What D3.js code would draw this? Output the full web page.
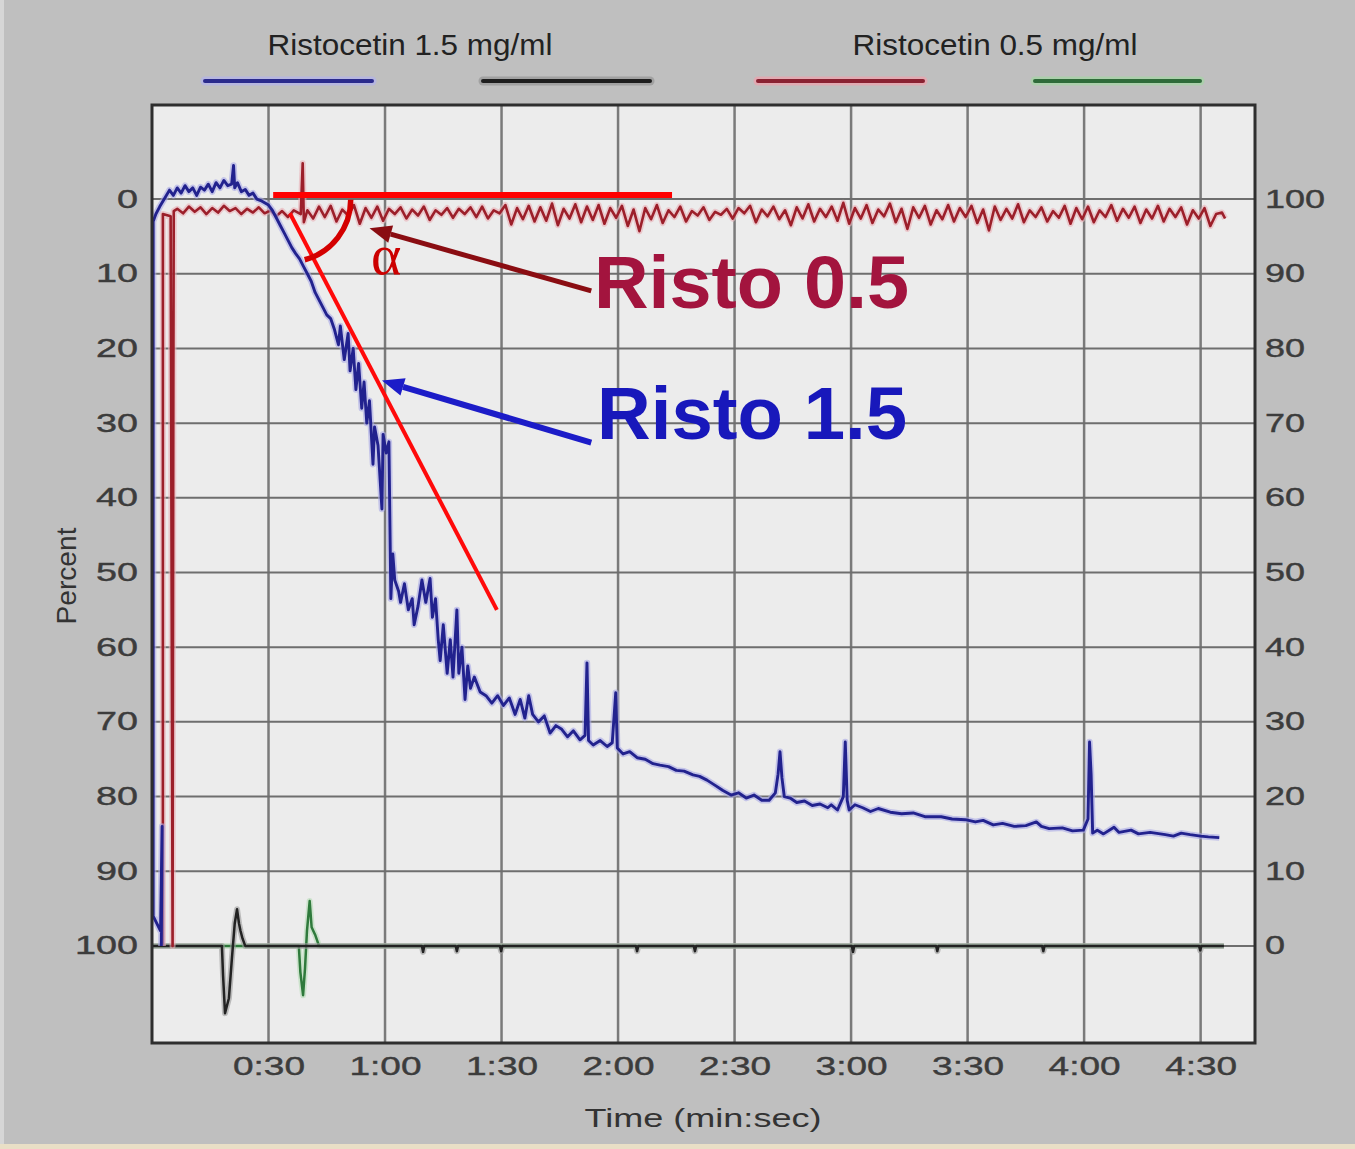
<!DOCTYPE html>
<html><head><meta charset="utf-8">
<script src="https://cdn.jsdelivr.net/npm/d3@7"></script>
<style>html,body{margin:0;padding:0;background:#bfbfbf;}svg{display:block;}</style>
</head><body>
<svg id="chart" width="1355" height="1149"></svg>
<script>
// ---- data: [time in seconds, percent aggregation] ----
const risto15 = [
[2.4,100],[2.6,84],[2.2,98],[0.3,96],[0.3,3],[1.0,2.0],[2.0,1.0],[3.5,-0.3],[4.5,-1.2],[5.5,-0.5],[6.5,-1.5],[7.5,-0.8],[8.5,-1.8],[9.5,-1.0],[10.5,-1.5],[11.5,-0.5],[12.5,-1.6],[13.5,-1.2],[14.5,-2.0],[15.5,-1.0],[16.5,-2.2],[17.5,-1.5],[18.5,-2.5],[19.5,-1.8],[20.5,-2.0],[21.0,-4.5],[21.3,-1.5],[22.0,-2.2],[23.0,-1.0],[24.0,-1.3],[25.0,-0.5],[26.0,-0.8],[27.0,0.0],[28.0,0.2],[29.0,0.5],[30.0,0.8],[31.0,1.5],[32.0,2.5],[33.0,3.5],[34.0,4.5],[35.0,5.5],[36.0,6.5],[37.0,7.3],[38.0,8.0],[39.0,9.0],[40.0,10.0],[41.0,11.0],[42.0,12.5],[43.0,13.5],[44.0,14.5],[45.0,15.5],
[46.0,16.0],[47.0,17.5],[48.0,19.5],[48.5,17.0],[49.5,21.5],[50.5,18.0],[51.0,23.0],[51.8,20.0],[52.5,25.5],[53.2,22.0],[54.0,28.0],[54.6,24.5],[55.3,30.0],[56.0,27.0],[56.9,35.5],[57.3,30.5],[58.2,33.0],[59.2,41.5],[59.5,31.5],[60.3,34.0],[61.0,32.5],[61.5,53.5],[62.0,47.5],[62.5,51.0],[63.5,52.5],[64.0,54.0],[65.0,51.5],[66.0,55.0],[67.0,53.5],[67.5,57.0],[68.5,54.5],[69.5,51.0],[70.5,54.0],[71.6,50.8],[72.2,56.0],[73.0,53.5],[73.7,59.0],[74.2,61.8],[75.0,57.0],[76.0,63.5],[76.8,59.0],[77.5,64.0],[78.5,55.0],[79.0,63.5],[79.8,60.0],[80.6,67.0],[81.3,62.5],[82.0,65.5],[83.0,64.0],[84.5,66.0],[86.0,66.5],[87.5,67.5],[89.0,66.5],[90.5,67.8],[92.0,66.8],[93.5,69.0],[94.8,67.0],[96.0,69.5],[97.0,66.5],[98.0,69.0],[99.5,70.0],[101.0,69.2],[102.5,71.5],[104.0,70.5],[105.5,71.0],[107.0,72.0],[108.5,71.2],[110.2,72.4],[111.5,71.8],[112.0,62.1],[112.4,72.5],[113.6,73.1],[115.4,72.5],[117.2,73.3],[118.5,72.8],[119.4,66.1],[119.8,73.5],[121.3,74.3],[123.0,74.0],[124.9,74.8],[127.0,75.0],[129.0,75.6],[130.8,75.8],[133.0,76.0],[135.0,76.5],[137.0,76.6],[139.3,77.1],[141.0,77.3],[142.9,77.8],[145.0,78.5],[147.0,79.2],[149.1,79.8],[151.0,79.5],[153.0,80.2],[155.0,79.8],[157.0,80.5],[158.9,80.5],[160.5,79.5],[161.2,77.0],[161.7,74.0],[162.2,77.5],[162.8,80.0],[164.3,80.2],[166.0,80.8],[168.0,80.6],[170.0,81.2],[172.0,81.0],[174.0,81.5],[174.9,81.1],[176.5,81.8],[178.0,80.0],[178.5,72.7],[179.0,80.5],[179.5,81.8],[181.0,81.1],[183.0,81.5],[185.0,82.0],[187.0,81.6],[190.1,82.1],[193.0,82.3],[196.0,82.2],[199.0,82.7],[203.2,82.7],[206.0,83.0],[209.4,83.1],[212.0,83.4],[214.0,83.2],[216.6,83.8],[219.0,83.6],[222.0,84.0],[225.0,83.9],[227.7,83.4],[229.0,84.0],[231.0,84.3],[234.4,84.2],[237.0,84.6],[239.8,84.5],[241.0,83.0],[241.4,72.7],[241.8,77.0],[242.2,84.9],[243.4,84.5],[245.0,85.0],[247.7,84.1],[249.0,84.8],[252.1,84.5],[254.0,85.0],[257.0,84.8],[260.9,85.1],[263.0,85.3],[265.0,84.9],[267.3,85.1],[270.0,85.3],[272.0,85.4],[274.8,85.5]
];
const risto05 = [
[2.8,100],[2.8,2.0],[4.8,2.3],[5.3,100],[5.5,24],[5.6,1.6],
[6.5,1.3],[8,1.9],[9.5,1.0],[11,1.7],[12.5,1.1],[14,2.0],[15.5,1.2],[17,1.8],[18.5,0.9],[20,1.6],[21.5,1.2],[23,2.0],[24.5,1.3],[26,1.8],[27.5,1.1],[29,1.9],[30.5,1.5],[32,2.3],[33.5,1.6],[35,2.4],[36.5,1.5],[38.3,2.0],[38.8,-4.8],[39.1,3.1],[40,1.5],[41.5,2.6],[43,1.0],[44.5,2.4],[46,0.9],[47.5,3.0],[49,1.4],[50.5,2.2],[52,0.8],[53.5,3.3],[55,1.2],[56.5,2.5],[58,1.0],[59.5,2.9],[61,1.3],[62.5,2.0],[64,1.1],[65.5,2.6],[67,1.4],[68.5,2.2],[70,1.0],[71.5,2.8],[73,1.5],[74.5,2.1],[76,1.2],[77.5,2.5],[79,1.3],[80.5,2.0],[82,1.1],[83.5,2.4],[85,1.0],[86.5,2.6],[88,1.5],[89.5,1.9],[91,0.8],[92.5,3.4],[94,1.2],[95.5,2.7],[97,0.9],[98.5,3.0],[100,1.1],[101.5,2.9],[103,0.6],[104.5,3.5],[106,1.3],[107.5,2.6],[109,0.7],[110.5,3.1],[112,1.0],[113.5,2.8],[115,0.8],[116.5,3.3],[118,1.2],[119.5,2.5],[121,0.9],[122.5,3.6],[124,1.4],[125.5,4.3],[127,1.2],[128.5,2.7],[130,0.8],[131.5,3.2],[133,1.5],[134.5,2.4],[136,1.0],[137.5,3.0],[139,1.6],[140.5,2.2],[142,1.1],[143.5,2.8],[145,1.7],[146.5,2.1],[148,1.3],[149.5,2.6],[151,1.2],[152.5,1.9],[154,0.9],[155.5,3.1],[157,1.4],[158.5,2.3],[160,1.0],[161.5,2.7],[163,1.5],[164.5,3.5],[166,1.1],[167.5,2.6],[169,0.7],[170.5,3.0],[172,1.3],[173.5,2.4],[175,1.0],[176.5,2.9],[178,0.5],[179.5,3.3],[181,1.2],[182.5,2.6],[184,0.8],[185.5,3.2],[187,1.4],[188.5,2.3],[190,0.6],[191.5,3.1],[193,1.3],[194.5,4.0],[196,1.1],[197.5,2.5],[199,0.9],[200.5,3.4],[202,1.5],[203.5,2.7],[205,0.8],[206.5,3.0],[208,1.2],[209.5,2.4],[211,0.9],[212.5,3.2],[214,1.4],[215.5,4.2],[217,1.0],[218.5,2.8],[220,1.3],[221.5,2.6],[223,0.7],[224.5,3.1],[226,1.5],[227.5,2.4],[229,1.1],[230.5,3.0],[232,1.6],[233.5,2.5],[235,0.9],[236.5,3.3],[238,1.2],[239.5,2.7],[241,1.0],[242.5,3.1],[244,1.5],[245.5,2.4],[247,0.8],[248.5,2.9],[250,1.3],[251.5,2.5],[253,1.0],[254.5,3.2],[256,1.4],[257.5,2.6],[259,0.9],[260.5,3.0],[262,1.3],[263.5,2.4],[265,1.1],[266.5,3.4],[268,1.5],[269.5,2.6],[271,1.2],[272.5,3.6],[274,2.0],[275.5,1.8],[276.3,2.6]
];
const blackTrace = [
[0,100],[18.0,100],[18.3,104],[18.8,109],[19.8,107],[20.6,101.5],[21.3,97],[21.9,95.1],[22.4,97],[22.8,98],[23.3,99],[24.0,100],
[69.5,100],[69.8,100.8],[70.1,100],[78.2,100],[78.5,100.7],[78.8,100],[89.6,100],[89.9,100.7],[90.2,100],[124.6,100],[124.9,100.7],[125.2,100],
[139.5,100],[139.8,100.7],[140.1,100],[180.2,100],[180.5,100.8],[180.8,100],[201.9,100],[202.2,100.7],[202.5,100],[229.2,100],[229.5,100.7],[229.8,100],[269.6,100],[269.9,100.6],[270.2,100],[276,100]
];
const greenTrace = [
[0,100],[37.8,100],[38.2,103.5],[38.9,106.6],[39.4,103],[39.9,98],[40.6,94],[41.1,97.5],[42.0,98.5],[43.0,100],[276,100]
];
const leftTicks = [0,10,20,30,40,50,60,70,80,90,100];
const rightTickLabels = ["100","90","80","70","60","50","40","30","20","10","0"];
const timeTicks = [30,60,90,120,150,180,210,240,270];
const timeTickLabels = ["0:30","1:00","1:30","2:00","2:30","3:00","3:30","4:00","4:30"];
const legendTitles = ["Ristocetin 1.5 mg/ml","Ristocetin 0.5 mg/ml"];
const annotationLabels = ["Risto 0.5","Risto 1.5"];

// ---- layout ----
const svg = d3.select("#chart");
const W = 1355, H = 1149;
const plot = {left:152, right:1255, top:105, bottom:1043};
const x = d3.scaleLinear().domain([0,284]).range([plot.left, plot.right]);
const y = d3.scaleLinear().domain([-12.6,113]).range([plot.top, plot.bottom]);

svg.append("rect").attr("width",W).attr("height",H).attr("fill","#bfbfbf");
svg.append("rect").attr("x",0).attr("y",0).attr("width",4).attr("height",H).attr("fill","#d6d6d6");
svg.append("rect").attr("x",0).attr("y",1144).attr("width",W).attr("height",5).attr("fill","#e9dfc6");

svg.append("rect").attr("x",plot.left).attr("y",plot.top)
  .attr("width",plot.right-plot.left).attr("height",plot.bottom-plot.top).attr("fill","#ececec");

svg.append("clipPath").attr("id","clip").append("rect")
  .attr("x",plot.left).attr("y",plot.top).attr("width",plot.right-plot.left).attr("height",plot.bottom-plot.top);

// grid
const grid = svg.append("g");
grid.selectAll("line.v").data(timeTicks).join("line")
  .attr("x1",d=>x(d)).attr("x2",d=>x(d)).attr("y1",plot.top).attr("y2",plot.bottom)
  .attr("stroke","#7a7a7a").attr("stroke-width",2.5);
grid.selectAll("line.h").data(leftTicks).join("line")
  .attr("y1",d=>y(d)).attr("y2",d=>y(d)).attr("x1",plot.left).attr("x2",plot.right)
  .attr("stroke","#6e6e6e").attr("stroke-width",2);

// axes
const tickFont = "'Liberation Sans', Arial, sans-serif";
const leftAxis = svg.append("g").attr("transform",`translate(${plot.left},0)`)
  .call(d3.axisLeft(y).tickValues(leftTicks).tickSize(0).tickPadding(14).tickFormat(d=>String(d)));
leftAxis.select(".domain").remove();
leftAxis.selectAll("text").attr("font-family",tickFont).attr("font-size",25).attr("fill","#3c3c3c")
  .attr("stroke","#3c3c3c").attr("stroke-width",0.4)
  .attr("textLength",d=>String(d).length*21).attr("lengthAdjust","spacingAndGlyphs");

const rightAxis = svg.append("g").attr("transform",`translate(${plot.right},0)`)
  .call(d3.axisRight(y).tickValues(leftTicks).tickSize(0).tickPadding(10).tickFormat((d,i)=>rightTickLabels[i]));
rightAxis.select(".domain").remove();
rightAxis.selectAll("text").attr("font-family",tickFont).attr("font-size",25).attr("fill","#3c3c3c")
  .attr("stroke","#3c3c3c").attr("stroke-width",0.4)
  .attr("textLength",(d,i)=>rightTickLabels[i].length*20).attr("lengthAdjust","spacingAndGlyphs");

const bottomAxis = svg.append("g").attr("transform",`translate(0,${plot.bottom})`)
  .call(d3.axisBottom(x).tickValues(timeTicks).tickSize(0).tickPadding(14).tickFormat((d,i)=>timeTickLabels[i]));
bottomAxis.select(".domain").remove();
bottomAxis.selectAll("text").attr("font-family",tickFont).attr("font-size",25).attr("fill","#3c3c3c")
  .attr("stroke","#3c3c3c").attr("stroke-width",0.4)
  .attr("textLength",72).attr("lengthAdjust","spacingAndGlyphs");

svg.append("text").attr("x",703).attr("y",1127).attr("text-anchor","middle")
  .attr("font-family",tickFont).attr("font-size",26).attr("fill","#333")
  .attr("textLength",237).attr("lengthAdjust","spacingAndGlyphs").text("Time (min:sec)");
svg.append("text").attr("transform","translate(76,576) rotate(-90)").attr("text-anchor","middle")
  .attr("font-family",tickFont).attr("font-size",28).attr("fill","#333")
  .attr("textLength",97).attr("lengthAdjust","spacingAndGlyphs").text("Percent");

// legend
const legend = svg.append("g");
const legendCenters = [410, 995];
legendTitles.forEach((t,i)=>{
  legend.append("text").attr("x",legendCenters[i]).attr("y",55).attr("text-anchor","middle")
    .attr("font-family",tickFont).attr("font-size",29).attr("fill","#222")
    .attr("textLength",285).attr("lengthAdjust","spacingAndGlyphs").text(t);
});
const legendSwatches = [
  {x1:205,x2:372,c:"#2a2a8c",g:"#b4b4e8"},
  {x1:483,x2:650,c:"#1e1e1e",g:"#9a9a9a"},
  {x1:758,x2:923,c:"#8a2232",g:"#eaa6b0"},
  {x1:1035,x2:1200,c:"#2f6b3a",g:"#a8d4a8"}
];
legendSwatches.forEach(s=>{
  legend.append("line").attr("x1",s.x1).attr("x2",s.x2).attr("y1",81).attr("y2",81)
    .attr("stroke",s.g).attr("stroke-width",9).attr("stroke-linecap","round").attr("opacity",0.8);
  legend.append("line").attr("x1",s.x1).attr("x2",s.x2).attr("y1",81).attr("y2",81)
    .attr("stroke",s.c).attr("stroke-width",4).attr("stroke-linecap","round");
});

// traces
const line = d3.line().x(d=>x(d[0])).y(d=>y(d[1]));
const traces = svg.append("g").attr("clip-path","url(#clip)");
function drawTrace(data, color, halo, w){
  traces.append("path").attr("d",line(data)).attr("fill","none")
    .attr("stroke",halo).attr("stroke-width",w+3.5).attr("stroke-linejoin","round").attr("opacity",0.6);
  traces.append("path").attr("d",line(data)).attr("fill","none")
    .attr("stroke",color).attr("stroke-width",w).attr("stroke-linejoin","round");
}
drawTrace(greenTrace,"#2f7a3c","#b6dcb6",2.5);
drawTrace(blackTrace,"#222","#9a9a9a",2.5);
drawTrace(risto05,"#9c1f2a","#eab0b8",2.6);
drawTrace(risto15,"#22228e","#a8a8e6",2.9);

// annotations
const ann = svg.append("g");
ann.append("line").attr("x1",x(31.2)).attr("x2",x(133.9)).attr("y1",y(-0.55)).attr("y2",y(-0.55))
  .attr("stroke","#ff0000").attr("stroke-width",6);
ann.append("line").attr("x1",x(35.5)).attr("y1",y(1.9)).attr("x2",x(88.8)).attr("y2",y(55.0))
  .attr("stroke","#ff0a0a").attr("stroke-width",4);
const cx = x(35.2), cy = y(0.1), r = 62;
const arc = d3.arc().innerRadius(r).outerRadius(r).startAngle(Math.PI/2).endAngle(Math.PI/2+1.31);
ann.append("path").attr("transform",`translate(${cx},${cy})`).attr("d",arc())
  .attr("fill","none").attr("stroke","#d40000").attr("stroke-width",5.5);
ann.append("text").attr("x",x(56.4)).attr("y",y(10.0)).attr("font-family","'Liberation Serif','DejaVu Serif',serif")
  .attr("font-size",58).attr("fill","#cc0000").text("α");

function arrow(from, to, color, w){
  const x1=x(from[0]), y1=y(from[1]), x2=x(to[0]), y2=y(to[1]);
  const ang = Math.atan2(y2-y1, x2-x1), L=22, hw=9;
  const bx = x2 - L*Math.cos(ang), by = y2 - L*Math.sin(ang);
  ann.append("line").attr("x1",x1).attr("y1",y1).attr("x2",bx).attr("y2",by)
    .attr("stroke",color).attr("stroke-width",w);
  const pts = [[x2,y2],[bx - hw*Math.sin(ang), by + hw*Math.cos(ang)],[bx + hw*Math.sin(ang), by - hw*Math.cos(ang)]];
  ann.append("polygon").attr("points",pts.map(p=>p.join(",")).join(" ")).attr("fill",color);
}
arrow([113.1,12.3],[56.0,3.9],"#8a0d12",5);
arrow([113.1,32.6],[59.2,24.3],"#1c1cc8",6);

ann.append("text").attr("x",x(113.8)).attr("y",y(14.6)).attr("font-family","'Liberation Sans',Arial,sans-serif")
  .attr("font-weight","bold").attr("font-size",75).attr("fill","#a3143e")
  .attr("textLength",315).attr("lengthAdjust","spacingAndGlyphs").text(annotationLabels[0]);
ann.append("text").attr("x",x(114.6)).attr("y",y(32.1)).attr("font-family","'Liberation Sans',Arial,sans-serif")
  .attr("font-weight","bold").attr("font-size",75).attr("fill","#1818bb")
  .attr("textLength",310).attr("lengthAdjust","spacingAndGlyphs").text(annotationLabels[1]);

// frame
svg.append("rect").attr("x",plot.left).attr("y",plot.top)
  .attr("width",plot.right-plot.left).attr("height",plot.bottom-plot.top)
  .attr("fill","none").attr("stroke","#2e2e2e").attr("stroke-width",3);
</script>
</body></html>
